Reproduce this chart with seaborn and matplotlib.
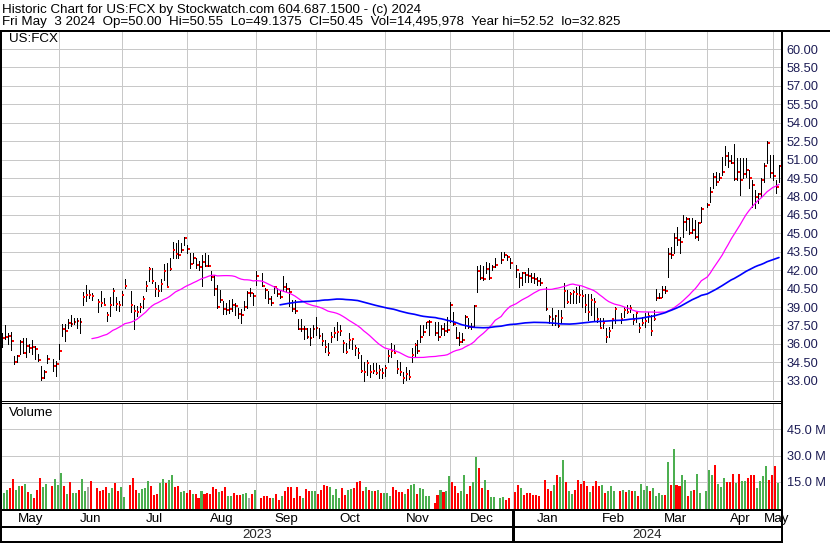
import numpy as np
import pandas as pd
import matplotlib
matplotlib.use("Agg")
import matplotlib.pyplot as plt
from matplotlib.lines import Line2D
import seaborn as sns

sns.set_theme(style="white")
plt.rcParams["font.family"] = ["Liberation Sans", "DejaVu Sans"]

# ---------------- data ----------------
title_line1 = "Historic Chart for US:FCX by Stockwatch.com 604.687.1500 - (c) 2024"
title_line2 = ("Fri May  3 2024  Op=50.00  Hi=50.55  Lo=49.1375  Cl=50.45  "
               "Vol=14,495,978  Year hi=52.52  lo=32.825")
symbol = "US:FCX"
first_day, last_day = "2023-05-05", "2024-05-03"
holidays = ["2023-05-29", "2023-06-19", "2023-07-04", "2023-09-04", "2023-11-23",
            "2023-12-25", "2024-01-01", "2024-01-15", "2024-02-19", "2024-03-29"]
month_names = ["May", "Jun", "Jul", "Aug", "Sep", "Oct", "Nov", "Dec",
               "Jan", "Feb", "Mar", "Apr", "May"]
year_names = ["2023", "2024"]
price_ticks = [33.0, 34.5, 36.0, 37.5, 39.0, 40.5, 42.0, 43.5, 45.0, 46.5, 48.0,
               49.5, 51.0, 52.5, 54.0, 55.5, 57.0, 58.5, 60.0]
volume_ticks = [15, 30, 45]

high = [
    # May 2023
    36.91, 37.53, 36.91, 37.00, 35.03, 35.08, 36.29, 36.51, 36.51, 35.97, 36.29, 35.84, 35.16, 34.16, 33.89, 35.11, 34.76, 34.62,
    # Jun
    35.97, 37.64, 37.58, 38.00, 38.34, 38.12, 38.07, 38.12, 40.20, 40.82, 40.41, 40.15, 39.69, 40.28, 39.74, 38.61, 39.79, 40.55, 39.79, 39.47, 40.28,
    # Jul
    41.30, 40.28, 39.20, 39.07, 39.34, 39.88, 41.09, 42.25, 42.17, 41.00, 40.82, 41.30, 42.50, 42.60, 42.97, 44.30, 44.20, 44.46, 44.20, 44.73,
    # Aug
    44.05, 43.38, 43.38, 42.97, 42.76, 43.24, 43.38, 43.24, 41.90, 41.63, 40.82, 40.41, 39.52, 39.34, 39.61, 39.69, 39.34, 38.93, 38.80, 39.47, 40.28, 40.55, 40.15,
    # Sep
    41.90, 41.76, 40.55, 40.28, 39.88, 40.68, 40.55, 40.41, 41.49, 40.95, 40.55, 39.61, 39.58, 37.99, 37.99, 37.45, 37.32, 37.32, 37.53, 38.20,
    # Oct
    37.32, 36.86, 36.31, 36.04, 36.99, 37.40, 37.81, 37.53, 36.31, 36.04, 36.86, 36.45, 35.90, 35.63, 35.09, 34.55, 34.68, 34.28, 34.42, 34.42, 34.28, 34.01,
    # Nov
    34.30, 35.50, 36.04, 35.90, 34.68, 34.55, 33.74, 34.14, 33.87, 35.63, 36.04, 36.31, 37.53, 37.53, 37.81, 37.94, 37.81, 37.81, 37.53, 37.67, 38.21,
    # Dec
    39.43, 38.62, 37.40, 36.99, 36.86, 38.35, 38.08, 37.67, 39.16, 42.34, 42.42, 42.30, 42.70, 42.55, 42.42, 42.96, 43.50, 43.45, 43.23, 42.96,
    # Jan 2024
    42.42, 41.74, 41.88, 41.88, 42.15, 41.74, 41.74, 41.47, 41.40, 40.66, 38.35, 38.89, 38.35, 38.76, 38.76, 40.98, 40.38, 40.25, 40.38, 40.66, 40.79,
    # Feb
    40.38, 40.10, 40.10, 40.10, 39.71, 38.89, 38.08, 38.08, 37.26, 37.40, 38.05, 39.03, 38.54, 39.02, 39.16, 39.16, 38.40, 38.62, 37.67, 38.21,
    # Mar
    38.48, 38.62, 38.35, 38.76, 40.43, 40.16, 40.71, 40.71, 43.78, 43.91, 45.00, 45.54, 44.73, 46.49, 46.35, 46.22, 46.22, 46.08, 45.95, 47.17,
    # Apr
    47.44, 48.80, 49.89, 50.02, 49.89, 51.24, 52.11, 51.65, 51.38, 52.30, 51.10, 51.10, 51.10, 51.10, 50.16, 49.34, 48.53, 48.25, 49.48, 50.70, 52.52, 51.38,
    # May
    51.38, 49.34, 50.55,
]
low = [
    35.75, 36.37, 35.97, 35.51, 34.35, 34.49, 35.16, 35.24, 34.89, 35.30, 35.16, 34.76, 34.62, 33.09, 33.22, 34.46, 33.81, 33.36,
    34.75, 36.64, 36.24, 37.32, 37.45, 37.58, 37.32, 36.91, 39.15, 39.47, 39.74, 39.60, 38.61, 39.07, 39.15, 37.85, 38.26, 39.20, 38.72, 38.66, 39.20,
    40.55, 38.61, 37.20, 38.26, 38.61, 38.93, 40.28, 41.14, 40.95, 39.88, 39.88, 40.30, 41.22, 40.60, 41.98, 42.97, 42.97, 42.97, 43.51, 44.05,
    43.38, 42.17, 42.57, 42.17, 42.03, 40.68, 42.30, 42.30, 41.22, 40.01, 38.93, 39.42, 38.45, 38.45, 38.53, 38.66, 38.39, 38.12, 37.72, 38.72, 38.93, 39.88, 39.20,
    40.82, 40.68, 39.74, 39.34, 39.20, 40.15, 39.88, 39.74, 40.28, 40.28, 39.07, 38.66, 38.53, 37.18, 37.05, 36.37, 36.51, 35.90, 36.58, 36.72,
    36.51, 35.90, 35.36, 35.09, 36.18, 36.58, 36.31, 36.72, 35.36, 35.23, 35.69, 35.58, 35.09, 34.82, 33.74, 32.98, 33.47, 33.33, 33.60, 33.52, 33.20, 33.20,
    33.40, 34.55, 34.96, 35.23, 33.60, 33.47, 32.83, 33.06, 33.14, 34.55, 34.96, 35.23, 36.18, 36.72, 37.26, 36.72, 36.72, 36.31, 36.72, 36.72, 36.99,
    37.81, 37.53, 36.45, 35.90, 36.18, 37.26, 37.26, 37.18, 37.34, 40.25, 41.25, 41.20, 41.74, 41.25, 42.00, 42.28, 42.55, 43.10, 42.83, 42.15,
    41.47, 40.66, 40.79, 41.06, 41.06, 41.06, 40.93, 40.79, 40.79, 38.76, 37.67, 37.54, 37.54, 37.40, 37.67, 39.03, 39.30, 39.30, 39.30, 39.30, 39.44,
    39.03, 38.62, 37.94, 38.35, 37.94, 37.81, 37.26, 37.26, 36.18, 36.59, 37.26, 37.67, 37.67, 38.21, 38.48, 38.62, 37.59, 37.81, 37.00, 37.54,
    37.40, 37.81, 36.72, 37.94, 39.57, 39.70, 39.84, 40.11, 41.47, 42.96, 43.37, 44.05, 43.37, 44.73, 45.27, 44.95, 45.00, 44.59, 44.46, 45.95,
    47.17, 47.57, 48.66, 48.93, 49.34, 49.75, 50.56, 50.43, 50.70, 49.34, 49.34, 48.12, 49.48, 49.61, 48.66, 47.17, 47.03, 47.44, 47.98, 49.20, 50.70, 49.61,
    49.34, 48.25, 49.1375,
]
close = [
    36.51, 36.56, 36.64, 36.24, 34.54, 35.00, 36.16, 35.27, 35.84, 35.65, 35.76, 35.57, 34.68, 33.22, 33.68, 34.78, 34.22, 34.35,
    35.43, 37.18, 37.05, 37.67, 37.58, 37.80, 37.85, 37.77, 39.82, 40.01, 40.01, 39.88, 39.39, 39.30, 39.20, 38.37, 39.20, 40.33, 39.26, 39.20, 39.96,
    40.74, 39.15, 38.66, 38.60, 39.01, 39.69, 40.68, 42.08, 41.09, 40.47, 40.33, 40.90, 41.90, 40.63, 42.08, 43.68, 43.33, 43.24, 43.65, 44.65,
    43.73, 42.54, 43.03, 42.44, 42.27, 42.68, 42.35, 42.32, 41.41, 40.44, 38.98, 39.58, 38.82, 38.72, 38.85, 39.15, 39.07, 38.45, 38.34, 39.01, 40.17, 40.17, 39.90,
    41.49, 40.74, 40.36, 39.69, 39.31, 40.60, 40.06, 39.79, 40.66, 40.50, 40.23, 38.82, 38.66, 37.23, 37.18, 37.23, 36.56, 36.50, 37.21, 37.26,
    36.64, 36.26, 35.77, 35.28, 36.53, 36.86, 36.95, 37.07, 36.04, 35.36, 36.31, 36.39, 35.63, 35.23, 33.82, 33.75, 34.42, 33.74, 33.79, 33.66, 33.85, 33.63,
    34.00, 35.01, 35.42, 35.28, 33.95, 33.68, 33.20, 33.52, 33.33, 35.09, 35.90, 35.42, 36.58, 36.94, 37.75, 37.81, 36.86, 36.53, 37.18, 37.05, 37.13,
    39.16, 37.59, 36.50, 36.18, 36.31, 38.21, 37.40, 37.35, 39.11, 41.93, 41.33, 41.25, 42.12, 41.33, 42.23, 42.42, 42.83, 43.23, 43.10, 42.57,
    42.01, 41.33, 41.75, 41.60, 41.50, 41.40, 41.25, 41.10, 40.95, 38.81, 38.16, 38.02, 38.25, 37.42, 38.08, 40.33, 39.44, 40.10, 40.25, 40.10, 39.98,
    39.90, 39.20, 38.62, 39.60, 39.44, 38.00, 37.32, 37.72, 36.59, 37.07, 38.00, 38.81, 38.02, 38.76, 38.62, 38.95, 37.94, 38.54, 37.32, 37.73,
    37.89, 38.29, 37.07, 38.02, 39.70, 39.76, 40.38, 40.30, 43.31, 43.23, 44.59, 44.48, 44.32, 45.95, 46.16, 45.05, 45.30, 44.73, 45.87, 46.98,
    47.30, 48.39, 49.61, 49.20, 49.48, 50.02, 51.32, 50.91, 50.75, 49.42, 50.02, 49.34, 49.80, 50.16, 49.48, 48.96, 47.98, 48.20, 49.34, 50.50, 52.38, 49.93,
    49.70, 48.80, 50.45,
]
volume_m = [
    12.9, 8.8, 10.3, 11.6, 16.8, 10.3, 12.6, 12.6, 13.7, 9.2, 8.2, 5.9, 10.3, 17.1, 12.2, 13.7, 12.6, 16.6,
    13.3, 20.0, 12.6, 8.2, 14.9, 8.6, 8.6, 10.3, 16.6, 9.7, 12.0, 15.4, 11.4, 9.7, 10.3, 12.0, 8.6, 11.4, 14.3, 9.7, 12.4,
    6.3, 13.2, 17.1, 10.3, 8.6, 10.9, 11.4, 15.4, 12.6, 7.6, 8.2, 14.3, 16.6, 14.3, 16.0, 18.9, 12.0, 12.6, 9.2, 9.7,
    8.6, 10.3, 8.0, 8.0, 5.9, 9.7, 8.2, 8.6, 8.2, 12.0, 10.9, 9.2, 9.7, 12.0, 7.0, 7.0, 8.8, 7.6, 7.6, 8.2, 8.6, 5.9, 8.0,
    10.3, 5.9, 7.0, 7.0, 5.9, 5.9, 8.2, 4.8, 7.0, 9.7, 12.2, 12.2, 5.9, 12.2, 7.0, 5.9, 10.9, 9.7, 9.7, 9.7,
    8.2, 10.3, 13.2, 12.6, 12.2, 7.6, 10.9, 5.9, 11.6, 7.8, 10.3, 10.9, 11.4, 15.0, 15.4, 10.1, 12.0, 10.3, 9.7, 9.7, 10.3, 8.8,
    8.8, 8.8, 7.0, 12.0, 10.3, 9.2, 9.2, 8.0, 10.9, 13.5, 14.1, 8.2, 11.4, 10.9, 7.2, 7.0, 3.0, 7.4, 10.7, 9.2, 9.7,
    18.3, 15.0, 12.6, 8.6, 10.1, 18.7, 8.2, 13.0, 14.9, 29.2, 22.9, 11.4, 16.0, 10.3, 6.3, 6.3, 5.7, 6.3, 4.6, 5.7,
    9.2, 13.2, 11.4, 7.4, 8.6, 8.6, 7.4, 7.4, 6.9, 16.0, 10.9, 9.7, 13.2, 18.9, 17.7, 27.4, 14.9, 9.7, 8.2, 10.3, 16.0,
    13.7, 15.4, 12.6, 9.2, 12.6, 15.4, 12.6, 13.2, 8.6, 9.7, 12.6, 9.7, 9.7, 10.3, 9.2, 10.3, 9.7, 10.1, 6.9, 13.9,
    10.7, 12.6, 9.7, 11.6, 7.2, 8.8, 7.4, 7.6, 26.3, 13.5, 33.9, 13.5, 12.9, 19.2, 16.4, 6.9, 9.7, 10.3, 19.4, 9.0,
    9.9, 21.7, 19.2, 24.6, 14.1, 12.2, 17.0, 14.9, 15.0, 19.4, 14.5, 19.4, 15.4, 15.4, 17.1, 19.2, 18.7, 11.6, 15.4, 18.3, 24.0, 16.4,
    18.9, 24.0, 14.5,
]

# ---------------- derived ----------------
dates = pd.bdate_range(first_day, last_day)
dates = dates[~dates.isin(pd.to_datetime(holidays))]
n = len(dates)
assert len(high) == len(low) == len(close) == len(volume_m) == n

ref = np.datetime64("2023-06-01")
day = dates.values.astype("datetime64[D]")
kx = np.busday_count(ref, day).astype(float)          # weekday slot index

df = pd.DataFrame({"k": kx, "high": high, "low": low, "close": close, "vol": volume_m})
df["ma30"] = df["close"].rolling(30).mean()
df["ma90"] = df["close"].rolling(90).mean()
chg = df["close"].diff()
vcol = np.where(chg > 0, "#4caf50", np.where(chg < 0, "#ff0000", "#a8a8a8"))

month_starts = pd.date_range("2023-06-01", "2024-05-01", freq="MS").values.astype("datetime64[D]")
rolled = np.busday_offset(month_starts, 0, roll="backward")
mk = np.busday_count(ref, rolled).astype(float)

# ---------------- layout ----------------
W, H = 830, 543
fig = plt.figure(figsize=(W / 100, H / 100), dpi=100)
fig.patch.set_facecolor("white")

SLOT = (773 - 59) / 239.0
X0 = 59.0
LEFT, RIGHT = 1.5, 781.0
xlim = ((LEFT - X0) / SLOT, (RIGHT - X0) / SLOT)
GRID = "#c8c8c8"
LABEL = "#1c1c55"
FS_TICK = 9.2
FS = 9.6
PX = 0.72  # points per pixel


def add_ax(x0, y0, x1, y1):
    ax = fig.add_axes([x0 / W, 1 - y1 / H, (x1 - x0) / W, (y1 - y0) / H])
    for s in ax.spines.values():
        s.set_visible(False)
    ax.set_facecolor("none")
    ax.set_xticks([])
    ax.set_yticks([])
    return ax


ax_p = add_ax(LEFT, 31, RIGHT, 400)
ax_v = add_ax(LEFT, 402.5, RIGHT, 508.5)
ax_m = add_ax(LEFT, 510, RIGHT, 526.5)
ax_y = add_ax(LEFT, 527.5, RIGHT, 541)

# ----- price panel -----
for v in price_ticks:
    ax_p.axhline(v, color=GRID, lw=PX, zorder=0)
for m in mk:
    ax_p.axvline(m, color=GRID, lw=PX, zorder=0)

ax_p.vlines(df["k"], df["low"], df["high"], color="black", lw=PX, zorder=3, antialiased=False)
ax_p.hlines(df["close"], df["k"] + 0.2, df["k"] + 0.85, color="red", lw=2 * PX, zorder=4, antialiased=False)
sns.lineplot(data=df, x="k", y="ma30", ax=ax_p, color="#ff00ff", lw=0.9, zorder=5)
sns.lineplot(data=df, x="k", y="ma90", ax=ax_p, color="#0000ff", lw=1.2, zorder=5)
ax_p.set_xlim(*xlim)
ax_p.set_ylim(31.43, 61.47)
ax_p.set_xlabel("")
ax_p.set_ylabel("")
ax_p.set_xticks([])
ax_p.yaxis.tick_right()
ax_p.set_yticks(price_ticks)
ax_p.set_yticklabels([f"{v:.2f}" for v in price_ticks])
ax_p.tick_params(axis="y", length=0, pad=4.0, labelsize=FS_TICK, labelcolor=LABEL)

# ----- volume panel -----
for v in volume_ticks:
    ax_v.axhline(v, color=GRID, lw=PX, zorder=0)
for m in mk:
    ax_v.axvline(m, color=GRID, lw=PX, zorder=0)
ax_v.bar(df["k"] - 0.3, df["vol"], width=0.68, color=vcol, linewidth=0, zorder=3, antialiased=False)
ax_v.set_xlim(*xlim)
ax_v.set_ylim(0, 60)
ax_v.yaxis.tick_right()
ax_v.set_yticks(volume_ticks)
ax_v.set_yticklabels([f"{v:.1f} M" for v in volume_ticks])
ax_v.tick_params(axis="y", length=0, pad=4.0, labelsize=FS_TICK, labelcolor=LABEL)

# ----- month / year rows -----
for a in (ax_m, ax_y):
    a.set_xlim(*xlim)
    a.set_ylim(0, 1)
centers = [(xlim[0] + mk[0]) / 2] + [(mk[i] + mk[i + 1]) / 2 for i in range(len(mk) - 1)] + [mk[-1] + 1.3]
for c, name in zip(centers, month_names):
    ax_m.text(c, 0.45, name, ha="center", va="center", fontsize=FS, color="black", clip_on=False)
jan_k = mk[7]
ax_y.text((xlim[0] + jan_k) / 2, 0.45, year_names[0], ha="center", va="center", fontsize=FS)
ax_y.text((jan_k + xlim[1]) / 2, 0.45, year_names[1], ha="center", va="center", fontsize=FS)


# ----- frame lines (figure pixels) -----
def fline(x0, y0, x1, y1, lw_px, color="black"):
    fig.add_artist(Line2D([x0 / W, x1 / W], [1 - y0 / H, 1 - y1 / H], transform=fig.transFigure,
                          lw=lw_px * PX, color=color, solid_capstyle="butt", antialiased=False))


fline(0, 30.5, W, 30.5, 2)
fline(1, 30, 1, 542.5, 2)
fline(782, 30, 782, 542.5, 2)
fline(0, 400.5, 782, 400.5, 1)
fline(0, 402.5, 782, 402.5, 1)
fline(0, 509.6, 782, 509.6, 1.5)
fline(0, 526.8, 782, 526.8, 1.5)
fline(0, 541.6, 782, 541.6, 1.5)
xj = X0 + SLOT * jan_k
fline(xj, 509.6, xj, 541.6, 1.2)

# ----- texts -----
fig.text(2 / W, 1 - 9.5 / H, title_line1, ha="left", va="center", fontsize=FS, color="black")
fig.text(2 / W, 1 - 22.5 / H, title_line2, ha="left", va="center", fontsize=FS, color="black")
fig.text(9 / W, 1 - 39 / H, symbol, ha="left", va="center", fontsize=FS, color="black")
fig.text(9 / W, 1 - 413 / H, "Volume", ha="left", va="center", fontsize=FS, color="black")

fig.savefig("out.png", dpi=100, facecolor="white")
